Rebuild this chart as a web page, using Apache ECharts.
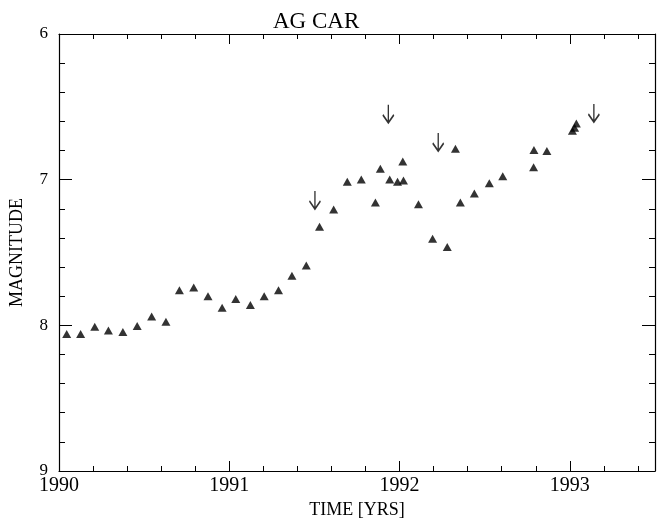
<!DOCTYPE html>
<html><head><meta charset="utf-8">
<script src="https://cdn.jsdelivr.net/npm/echarts@6/dist/echarts.min.js"></script>
<style>html,body{margin:0;padding:0;background:#fff}#c{width:657px;height:518px}</style>
</head><body><div id="c"></div><script>
// Observed magnitudes (triangles)
const years = [1990.045, 1990.127, 1990.21, 1990.29, 1990.375, 1990.459, 1990.544, 1990.628,
  1990.707, 1990.791, 1990.875, 1990.958, 1991.038, 1991.124, 1991.205, 1991.289, 1991.368, 1991.452,
  1991.530, 1991.613, 1991.693, 1991.775, 1991.858, 1991.887, 1991.942, 1991.988, 1992.023, 1992.019,
  1992.111, 1992.194, 1992.280, 1992.328, 1992.357, 1992.439, 1992.527, 1992.606,
  1992.787, 1992.789, 1992.865, 1993.015, 1993.028, 1993.038];
const mags = [8.06, 8.06, 8.01, 8.035, 8.045, 8.005, 7.94, 7.975,
  7.76, 7.74, 7.80, 7.88, 7.82, 7.86, 7.80, 7.76, 7.66, 7.59,
  7.324, 7.205, 7.015, 6.999, 7.157, 6.925, 6.999, 7.015, 7.006, 6.875,
  7.168, 7.405, 7.462, 6.788, 7.157, 7.095, 7.025, 6.976,
  6.914, 6.797, 6.804, 6.664, 6.644, 6.614];
// Limits (arrows)
const limitYears = [1991.503, 1991.934, 1992.227, 1993.141];
const limitMags = [7.14, 6.548, 6.742, 6.543];
// Tick labels
const xTickLabels = ['1990', '1991', '1992', '1993'];
const yTickLabels = ['6', '7', '8', '9'];

const FONT = "'Liberation Serif', 'DejaVu Serif', serif";
const INK = '#000';

function xAxis(pos, show) {
  return {
    type: 'value', position: pos, min: 1990, max: 1993.5, interval: 1,
    axisLine: { show: true, onZero: false, lineStyle: { color: INK, width: 1.2 } },
    axisTick: { show: true, inside: true, length: 10, lineStyle: { color: INK, width: 1 } },
    minorTick: { show: true, splitNumber: 5, length: 5, lineStyle: { color: INK, width: 1 } },
    splitLine: { show: false }, minorSplitLine: { show: false },
    axisLabel: {
      show: show, margin: 5, color: INK, fontFamily: FONT, fontSize: 20,
      formatter: v => { const s = String(Math.round(v)); return (Math.abs(v - Math.round(v)) < 1e-6 && xTickLabels.includes(s)) ? s : ''; }
    },
    name: show ? 'TIME [YRS]' : '', nameLocation: 'middle', nameGap: 26,
    nameTextStyle: { color: INK, fontFamily: FONT, fontSize: 18 }
  };
}
function yAxis(pos, show) {
  return {
    type: 'value', position: pos, min: 6, max: 9, interval: 1, inverse: true,
    axisLine: { show: true, onZero: false, lineStyle: { color: INK, width: 1.2 } },
    axisTick: { show: true, inside: true, length: 13, lineStyle: { color: INK, width: 1 } },
    minorTick: { show: true, splitNumber: 5, length: 6, lineStyle: { color: INK, width: 1 } },
    splitLine: { show: false }, minorSplitLine: { show: false },
    axisLabel: {
      show: show, margin: 11, color: INK, fontFamily: FONT, fontSize: 17,
      formatter: v => { const s = String(Math.round(v)); return yTickLabels.includes(s) ? s : ''; }
    },
    name: show ? 'MAGNITUDE' : '', nameLocation: 'middle', nameGap: 33, nameRotate: 90,
    nameTextStyle: { color: INK, fontFamily: FONT, fontSize: 18 }
  };
}

const chart = echarts.init(document.getElementById('c'), null, { renderer: 'canvas' });
chart.setOption({
  backgroundColor: '#fff',
  animation: false,
  title: {
    text: 'AG CAR', left: 273, top: 10, padding: 0,
    textStyle: { color: INK, fontFamily: FONT, fontSize: 23, fontWeight: 'normal' }
  },
  grid: { left: 59, right: 2, top: 34, bottom: 47, containLabel: false, outerBoundsMode: 'none' },
  xAxis: [xAxis('bottom', true), xAxis('top', false)],
  yAxis: [yAxis('left', true), yAxis('right', false)],
  series: [
    {
      type: 'scatter', xAxisIndex: 0, yAxisIndex: 0,
      symbol: 'triangle', symbolSize: [9, 8],
      itemStyle: { color: '#000' },
      data: years.map((y, i) => [y, mags[i]])
    },
    {
      type: 'scatter', xAxisIndex: 0, yAxisIndex: 0,
      symbol: 'path://M6,0 L6,18 M0,10 L6,18 L12,10', symbolSize: [11, 18],
      itemStyle: { color: 'none', borderColor: '#000', borderWidth: 1.7 },
      data: limitYears.map((y, i) => [y, limitMags[i]])
    }
  ]
});
</script></body></html>
